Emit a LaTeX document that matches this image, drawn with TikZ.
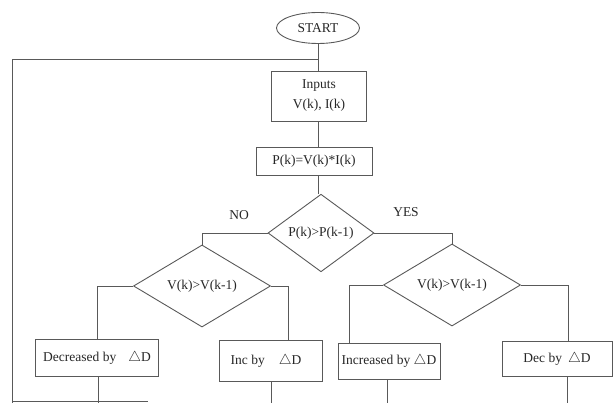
\documentclass[tikz,border=0pt]{standalone}
\usepackage{fontspec}
\setmainfont{Liberation Serif}
\usepackage{amssymb}
\usepackage{tikz}
\usetikzlibrary{shapes.geometric}

\tikzset{
	txt/.style={font=\fontsize{13.5}{20}\selectfont, text=black!85, inner sep=0pt},
	wire/.style={draw=black!65, line width=0.9pt},
	blk/.style={txt, wire, rectangle, align=center},
	dia/.style={txt, wire, diamond}
}

\begin{document}
\begin{tikzpicture}[x=1pt,y=-1pt]
					\useasboundingbox (0,0) rectangle (613,403);
					% Define the nodes
					\node[txt, wire, ellipse, minimum width=83, minimum height=31] (start) at (318,28) {START};
					\node[blk, minimum width=95, minimum height=50] (inputs) at (319,96) {Inputs\\V(k), I(k)};
					\node[blk, minimum width=116, minimum height=28] (power) at (314,161) {P(k)=V(k)*I(k)};
					\node[dia, minimum width=106, minimum height=46] (cmpP) at (321,233) {P(k)>P(k-1)};
					\node[dia, minimum width=137, minimum height=50] (cmpVL) at (202,286) {V(k)>V(k-1)};
					\node[dia, minimum width=137, minimum height=50] (cmpVR) at (452,285) {V(k)>V(k-1)};
					\node[blk, minimum width=123, minimum height=37] (decL) at (97,358) {Decreased by\hspace{12pt}$\triangle$D};
					\node[blk, minimum width=103, minimum height=41] (incL) at (271,361) {Inc by\hspace{14pt}$\triangle$D\hspace{10pt}};
					\node[blk, minimum width=102, minimum height=36] (incR) at (389,361) {Increased by $\triangle$D};
					\node[blk, minimum width=110, minimum height=35] (decR) at (557,359) {Dec by\hspace{6pt}$\triangle$D};
					% Add labels to the branches
					\node[txt] (no) at (239,215) {NO};
					\node[txt] (yes) at (406,212) {YES};
					% Loop back
					\coordinate (join) at (318,59);
					\coordinate (loop) at (12,59);
					\coordinate (base) at (0,403);
					\coordinate (back) at (148,401);
					\draw[wire] (start.south) -- (start.south |- inputs.north);
					\draw[wire] (join) -- (loop) -- (loop |- base);
					\draw[wire] (loop |- back) -- (back);
					% Connect the boxes
					\draw[wire] ([xshift=-1pt]inputs.south) -- ([xshift=-1pt]inputs.south |- power.north);
					\draw[wire] ([xshift=4pt]power.south) -- ([xshift=4pt]power.south |- cmpP.north);
					\draw[wire] (cmpP.west) -| (cmpVL.north);
					\draw[wire] (cmpP.east) -| (cmpVR.north);
					\draw[wire] (cmpVL.west) -| (decL.north);
					\draw[wire] (cmpVL.east) -| ([xshift=17pt]incL.north);
					\draw[wire] (cmpVR.west) -| ([xshift=-40pt]incR.north);
					\draw[wire] (cmpVR.east) -| ([xshift=11pt]decR.north);
					\foreach \b/\s in {decL/1,incL/0,incR/-2,decR/10}
						\draw[wire] ([xshift=\s pt]\b.south) -- ([xshift=\s pt]\b.south |- base);
				\end{tikzpicture}
\end{document}
